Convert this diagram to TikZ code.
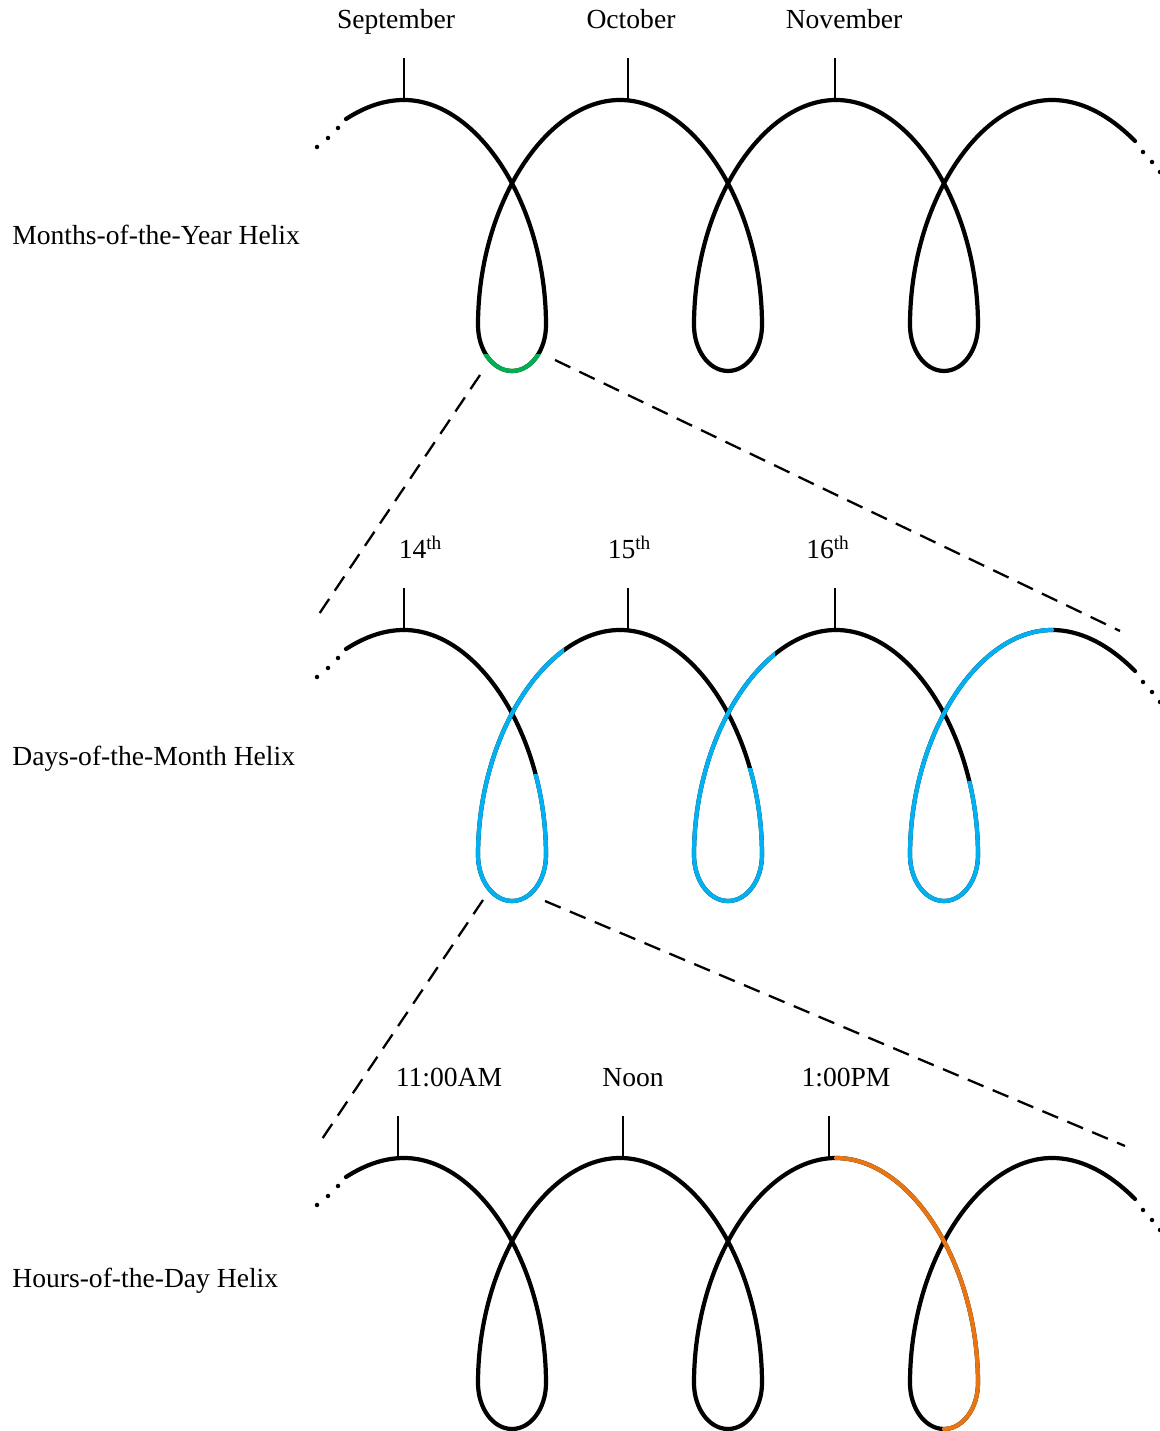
\documentclass[tikz,border=0pt]{standalone}
\usepackage{fontspec}
\setmainfont{Liberation Serif}
\usepackage{tikz}

\definecolor{monthgreen}{RGB}{0,176,80}
\definecolor{dayblue}{RGB}{0,176,240}
\definecolor{hourorange}{RGB}{232,117,17}

% one turn of a helix: #2 = x of the loop, #3 = y of the tops
\newcommand{\arcdown}[3][]{\draw[helix,#1] ({#2-2.16},#3)
    .. controls ({#2-0.68},#3) and ({#2+0.68},{#3-2.1}) .. ({#2+0.68},{#3-4.5});}
\newcommand{\bowlright}[3][]{\draw[helix,#1] ({#2+0.68},{#3-4.5})
    .. controls ({#2+0.68},{#3-5.01}) and ({#2+0.376},{#3-5.42}) .. (#2,{#3-5.42});}
\newcommand{\bowlleft}[3][]{\draw[helix,#1] (#2,{#3-5.42})
    .. controls ({#2-0.376},{#3-5.42}) and ({#2-0.68},{#3-5.01}) .. ({#2-0.68},{#3-4.5});}
\newcommand{\arcup}[3][]{\draw[helix,#1] ({#2-0.68},{#3-4.5})
    .. controls ({#2-0.68},{#3-2.1}) and ({#2+0.68},#3) .. ({#2+2.16},#3);}

\begin{document}
\begin{tikzpicture}[font=\fontsize{15.7}{19}\selectfont,x=1cm,y=1cm]
    \tikzset{
        helix/.style={line width=2.4pt,line cap=round},
        tick/.style={line width=1.4pt},
        zoomline/.style={line width=1.3pt,dash pattern=on 0.34cm off 0.2cm},
        helixname/.style={anchor=base west,inner sep=0pt},
        ticklabel/.style={anchor=base,inner sep=0pt}
    }
    \useasboundingbox (0,0) rectangle (23.2,28.62);

    % the three helices
    \foreach \yt in {26.62,16.02,5.46} {
        \draw[helix] (6.92,{\yt-0.38}) .. controls (7.31,{\yt-0.13}) and (7.69,\yt) .. (8.08,\yt);
        \foreach \cx in {10.24,14.56,18.88} {
            \arcdown{\cx}{\yt}
            \bowlright{\cx}{\yt}
            \bowlleft{\cx}{\yt}
            \arcup{\cx}{\yt}
        }
        \draw[helix] (21.04,\yt) .. controls (21.59,\yt) and (22.15,{\yt-0.27}) .. (22.7,{\yt-0.82});
        \foreach \dx/\dy in {6.76/0.56,6.56/0.76,6.34/0.94,22.86/1.04,23.04/1.24,23.2/1.44}
            \fill (\dx,{\yt-\dy}) circle (0.045);
    }

    % months
    \begin{scope}
        \clip (9.5,20.5) rectangle (11,21.52);
        \bowlright[monthgreen]{10.24}{26.62}
        \bowlleft[monthgreen]{10.24}{26.62}
    \end{scope}
    \node[helixname] (monthhelix) at (0.24,23.72) {Months-of-the-Year Helix};
    \foreach \x in {8.08,12.56,16.70}
        \draw[tick] (\x,26.62) -- (\x,27.46);
    \node[ticklabel] (sep) at (7.92,28.04) {September};
    \node[ticklabel] (oct) at (12.62,28.04) {October};
    \node[ticklabel] (nov) at (16.88,28.04) {November};

    % days
    \begin{scope}
        \clip (9,10) rectangle (11.5,13.12);
        \arcdown[dayblue]{10.24}{16.02}
    \end{scope}
    \bowlright[dayblue]{10.24}{16.02}
    \bowlleft[dayblue]{10.24}{16.02}
    \begin{scope}
        \clip (9,10) rectangle (11.28,17);
        \arcup[dayblue]{10.24}{16.02}
    \end{scope}
    \begin{scope}
        \clip (13.3,10) rectangle (15.8,13.24);
        \arcdown[dayblue]{14.56}{16.02}
    \end{scope}
    \bowlright[dayblue]{14.56}{16.02}
    \bowlleft[dayblue]{14.56}{16.02}
    \begin{scope}
        \clip (13.3,10) rectangle (15.5,17);
        \arcup[dayblue]{14.56}{16.02}
    \end{scope}
    \begin{scope}
        \clip (17.6,10) rectangle (20.1,12.98);
        \arcdown[dayblue]{18.88}{16.02}
    \end{scope}
    \bowlright[dayblue]{18.88}{16.02}
    \bowlleft[dayblue]{18.88}{16.02}
    \arcup[dayblue]{18.88}{16.02}
    \node[helixname] (dayhelix) at (0.24,13.30) {Days-of-the-Month Helix};
    \foreach \x in {8.08,12.56,16.70}
        \draw[tick] (\x,16.02) -- (\x,16.86);
    \node[ticklabel] (d14) at (8.41,17.44) {14\textsuperscript{th}};
    \node[ticklabel] (d15) at (12.59,17.44) {15\textsuperscript{th}};
    \node[ticklabel] (d16) at (16.56,17.44) {16\textsuperscript{th}};

    % hours
    \arcdown[hourorange]{18.88}{5.46}
    \bowlright[hourorange]{18.88}{5.46}
    \node[helixname] (hourhelix) at (0.24,2.86) {Hours-of-the-Day Helix};
    \foreach \x in {7.96,12.46,16.58}
        \draw[tick] (\x,5.46) -- (\x,6.30);
    \node[ticklabel] (h11) at (8.98,6.88) {11:00AM};
    \node[ticklabel] (noon) at (12.66,6.88) {Noon};
    \node[ticklabel] (h13) at (16.92,6.88) {1:00PM};

    % zoom lines
    \coordinate (greenL) at (9.60,21.12);
    \coordinate (greenR) at (11.10,21.42);
    \coordinate (dayL) at (6.30,16.22);
    \coordinate (dayR) at (22.40,16.00);
    \coordinate (blueL) at (9.66,10.62);
    \coordinate (blueR) at (10.90,10.60);
    \coordinate (hourL) at (6.36,5.72);
    \coordinate (hourR) at (22.50,5.70);
    \draw[zoomline] (greenL) -- (dayL);
    \draw[zoomline] (greenR) -- (dayR);
    \draw[zoomline] (blueL) -- (hourL);
    \draw[zoomline] (blueR) -- (hourR);
\end{tikzpicture}
\end{document}
